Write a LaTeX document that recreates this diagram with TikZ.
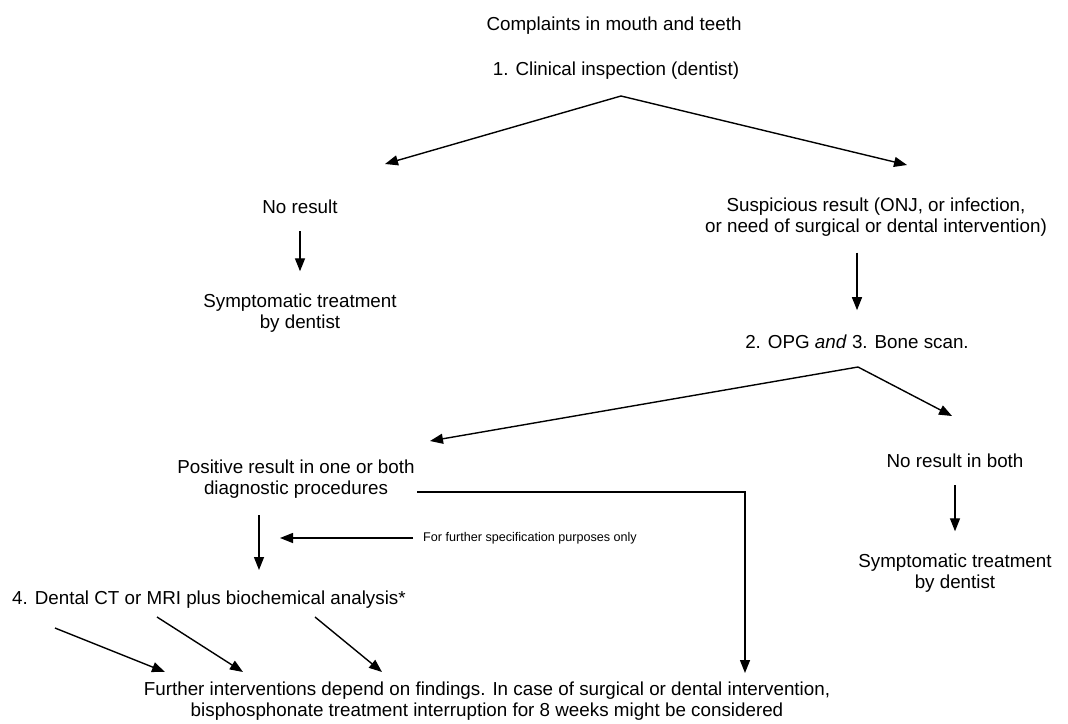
\documentclass[tikz,border=0pt]{standalone}
\usepackage{fontspec}
\setmainfont{Liberation Sans}
\usetikzlibrary{arrows.meta}
\begin{document}
\begin{tikzpicture}[x=1pt,y=-1pt,
  txt/.style={inner sep=0pt, font=\fontsize{18.8}{21.5}\selectfont, align=center},
  smalltxt/.style={inner sep=0pt, font=\fontsize{12.6}{15}\selectfont},
  arr/.style={line width=1.4pt, -{Triangle[length=13pt,width=10pt]}}]
\useasboundingbox (0,0) rectangle (1068,723);

% texts
\node[txt,anchor=base] (title) at (614,30) {Complaints in mouth and teeth};
\node[txt,anchor=base] (insp) at (616,75) {1. Clinical inspection (dentist)};
\node[txt,anchor=base] (nores) at (300,213) {No result};
\node[txt] (sympL) at (300,313) {Symptomatic treatment\\by dentist};
\node[txt] (susp) at (876,217) {Suspicious result (ONJ, or infection,\\or need of surgical or dental intervention)};
\node[txt,anchor=base] (opg) at (857,348) {2. OPG \textit{and} 3. Bone scan.};
\node[txt] (pos) at (296,479) {Positive result in one or both\\diagnostic procedures};
\node[txt,anchor=base] (noboth) at (955,467) {No result in both};
\node[txt] (sympR) at (955,573) {Symptomatic treatment\\by dentist};
\node[smalltxt,anchor=west] (spec) at (423,538) {For further specification purposes only};
\node[txt,anchor=base west] (dental) at (12,604) {4. Dental CT or MRI plus biochemical analysis*};
\node[txt] (further) at (487,701) {Further interventions depend on findings. In case of surgical or dental intervention,\\bisphosphonate treatment interruption for 8 weeks might be considered};

% coordinates
\coordinate (ap1) at (621,96);
\coordinate (v1l) at (385,164);
\coordinate (v1r) at (907,165);
\coordinate (ap2) at (858,367);
\coordinate (v2l) at (430,441);
\coordinate (v2r) at (952,416);
\coordinate (specend) at (280,538);
\coordinate (d1) at (259,515);
\coordinate (d2) at (259,570);
\coordinate (h1) at (417,492);
\coordinate (h2) at (745,673);
\coordinate (b1s) at (55,628);
\coordinate (b1e) at (165,672);
\coordinate (b2s) at (157,617);
\coordinate (b2e) at (243,672);
\coordinate (b3s) at (315,617);
\coordinate (b3e) at (382,672);

% connectors
\draw[arr] (ap1) -- (v1l);
\draw[arr] (ap1) -- (v1r);
\draw[arr, shorten <=18pt, shorten >=22pt] (nores) -- (sympL);
\draw[arr, shorten <=16pt, shorten >=24pt] (susp.south -| opg.center) -- (opg.north);
\draw[arr] (ap2) -- (v2l);
\draw[arr] (ap2) -- (v2r);
\draw[arr, shorten <=18pt, shorten >=22pt] (noboth) -- (sympR);
\draw[arr] ([xshift=-10pt]spec.west) -- (specend);
\draw[arr] (d1) -- (d2);
\draw[arr] (h1) -| (h2);
\draw[arr] (b1s) -- (b1e);
\draw[arr] (b2s) -- (b2e);
\draw[arr] (b3s) -- (b3e);
\end{tikzpicture}
\end{document}
